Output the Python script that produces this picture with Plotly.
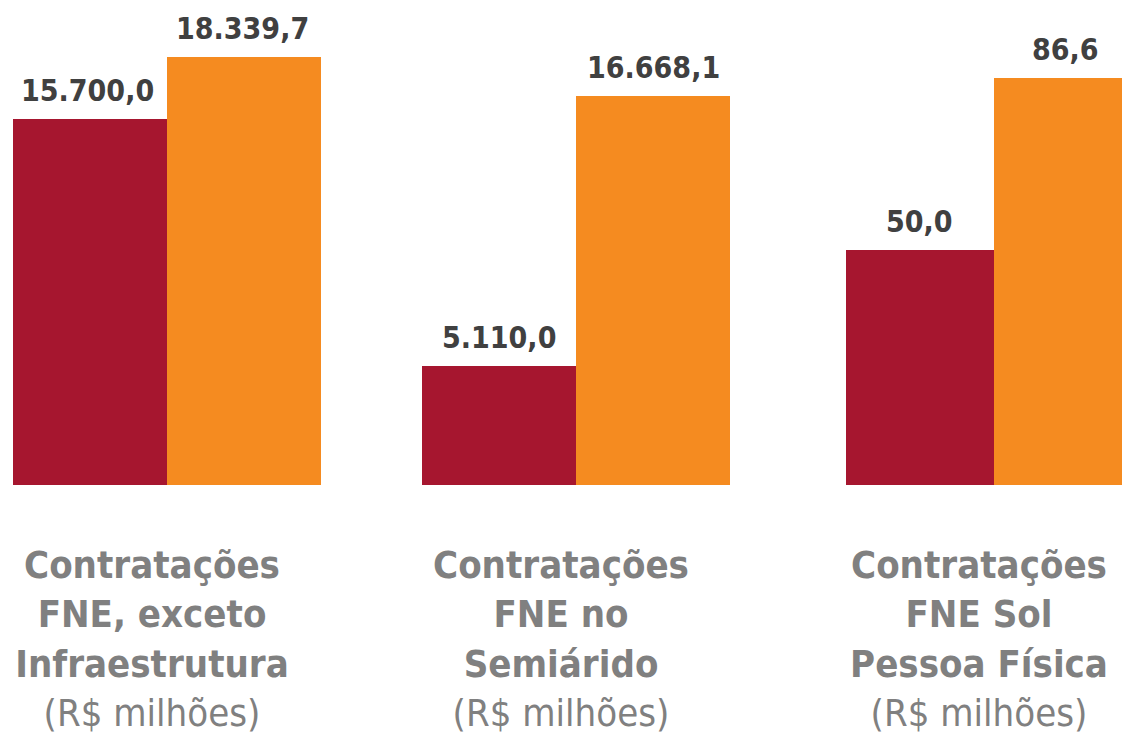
import plotly.graph_objects as go

categories = [
    "<b>Contratações<br>FNE, exceto<br>Infraestrutura</b><br>(R$ milhões)",
    "<b>Contratações<br>FNE no<br>Semiárido</b><br>(R$ milhões)",
    "<b>Contratações<br>FNE Sol<br>Pessoa Física</b><br>(R$ milhões)",
]
series_a = [15700.0, 5110.0, 50.0]
series_b = [18339.7, 16668.1, 86.6]
labels_a = ["15.700,0", "5.110,0", "50,0"]
labels_b = ["18.339,7", "16.668,1", "86,6"]

RED = "#A6162F"
ORANGE = "#F58B20"
VAL = "#404040"
GRAY = "#808080"
FONT = "DejaVu Sans Condensed, DejaVu Sans, sans-serif"

W, H = 1130, 738
# page body has an 8px margin; positions below are in figure pixels
domains = [[5 / W, 313 / W], [414 / W, 722 / W], [838 / W, 1.0]]
xranges = [[-0.5, 0.5], [-0.5, 0.5], [-0.5, 0.4865]]
yranges = [[0, 20460], [0, 20460], [0, 101.5]]
label_xshift = [[-80, 75], [-77, 77], [-75, 71]]

fig = go.Figure()
annotations = []
for i in range(3):
    xa = "x" if i == 0 else f"x{i+1}"
    ya = "y" if i == 0 else f"y{i+1}"
    for k, (vals, labs, col) in enumerate(((series_a, labels_a, RED), (series_b, labels_b, ORANGE))):
        fig.add_trace(go.Bar(
            x=[categories[i]], y=[vals[i]],
            marker=dict(color=col, line=dict(width=0)),
            xaxis=xa, yaxis=ya, showlegend=False, hoverinfo="y",
        ))
        annotations.append(dict(
            x=categories[i], y=vals[i], xref=xa, yref=ya,
            text=f"<b>{labs[i]}</b>", showarrow=False,
            xanchor="center", yanchor="bottom",
            xshift=label_xshift[i][k], yshift=9,
            font=dict(family=FONT, size=30, color=VAL),
        ))
    axx = dict(domain=domains[i], range=xranges[i], anchor=ya, showgrid=False,
               zeroline=False, showline=False, ticks="",
               tickfont=dict(family=FONT, size=38, color=GRAY),
               ticklabelshift=-15, ticklabelstandoff=54)
    axy = dict(domain=[0, 1], range=yranges[i], anchor=xa, visible=False)
    fig.update_layout(**{("xaxis" if i == 0 else f"xaxis{i+1}"): axx,
                         ("yaxis" if i == 0 else f"yaxis{i+1}"): axy})

fig.update_layout(
    width=W, height=H, barmode="group", bargap=0, bargroupgap=0,
    margin=dict(l=0, r=0, t=0, b=261, autoexpand=False),
    paper_bgcolor="white", plot_bgcolor="white",
    annotations=annotations,
)
fig.write_html("out.html")
